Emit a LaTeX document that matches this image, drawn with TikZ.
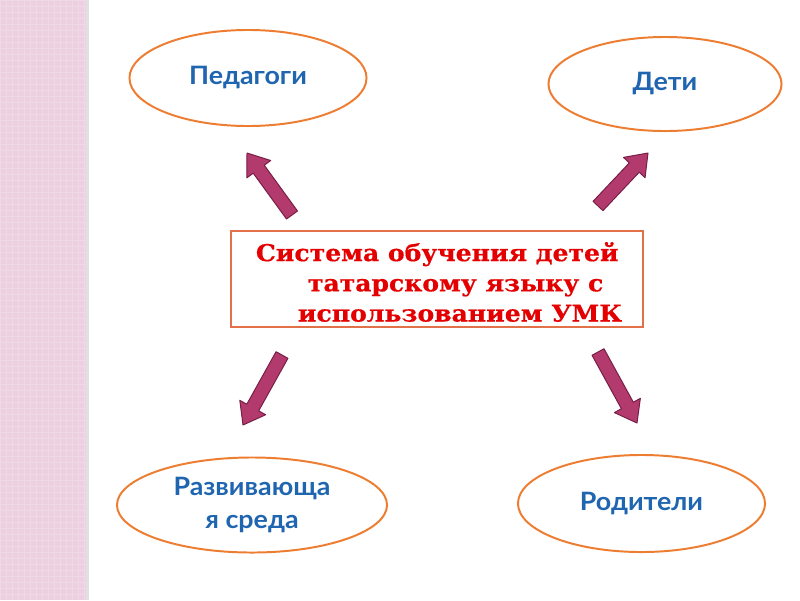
\documentclass[tikz,border=0pt]{standalone}
\usepackage{fontspec}
\setmainfont{Lato}[FakeStretch=1.06]
\newfontfamily\titlefont{DejaVu Serif}[FakeStretch=1.08, BoldFeatures={FakeBold=0.6}]
\usetikzlibrary{shapes.geometric,calc}
\definecolor{ringorange}{RGB}{237,125,49}
\definecolor{boxorange}{RGB}{226,112,72}
\definecolor{goalblue}{RGB}{31,101,176}
\definecolor{titlered}{RGB}{228,0,0}
\definecolor{arrowpink}{RGB}{178,58,108}
\definecolor{arrowedge}{RGB}{120,30,70}
\definecolor{stripepink}{RGB}{236,208,224}

\begin{document}
\begin{tikzpicture}[x=0.025cm, y=-0.025cm,
  goal/.style={ellipse, draw=ringorange, line width=1.4pt, fill=white, inner sep=0pt, align=center,
    text=goalblue, font=\fontsize{18}{23.5}\selectfont\bfseries},
  system/.style={rectangle, draw=boxorange, line width=1.4pt, fill=white, align=left,
    text=titlered, font=\titlefont\fontsize{16.5}{21.5}\selectfont\bfseries,
    minimum width=10.3cm, minimum height=2.4cm},
  fatarrow/.style={fill=arrowpink, draw=arrowedge, line width=0.7pt, line join=round}
]
\useasboundingbox (0,0) rectangle (800,600);
% left stripe
\fill[stripepink] (0,0) rectangle (86,600);
\draw[white, opacity=0.2, step=0.15cm] (0,0) grid (86,600);
\fill[black!12] (86,0) rectangle (89,600);

\node[goal, minimum width=5.925cm, minimum height=2.4cm] (ped) at (248,78) {Педагоги};
\node[goal, minimum width=5.825cm, minimum height=2.35cm] (deti) at (665,84) {Дети};
\node[goal, minimum width=6.75cm, minimum height=2.375cm] (sreda) at (252,505) {Развивающа\\я среда};
\node[goal, minimum width=6.175cm, minimum height=2.425cm] (rod) at (641.5,503.5) {Родители};

\node[system] (sys) at (437,279) {};
\node[text=titlered, font=\titlefont\fontsize{16.5}{21.5}\selectfont\bfseries, align=left]
  (title) at (439,282) {Система обучения детей\\
  \hspace*{1.3cm}татарскому языку с\\
  \hspace*{1.05cm}использованием УМК};

% ends of the block arrows
\coordinate (pedS) at (292,215);   \coordinate (pedT) at (247,153);
\coordinate (detiS) at (598,206);  \coordinate (detiT) at (648,153);
\coordinate (sredaS) at (282,355); \coordinate (sredaT) at (243,425);
\coordinate (rodS) at (598,352);   \coordinate (rodT) at (637,423);

\foreach \s/\t in {pedS/pedT, detiS/detiT, sredaS/sredaT, rodS/rodT} {
  \coordinate (hb) at ($(\t)!0.5cm!(\s)$);
  \draw[fatarrow] ($(\s)!0.17cm!90:(\t)$) -- ($(hb)!0.17cm!90:(\t)$) -- ($(hb)!0.37cm!90:(\t)$)
    -- (\t) -- ($(hb)!0.37cm!-90:(\t)$) -- ($(hb)!0.17cm!-90:(\t)$) -- ($(\s)!0.17cm!-90:(\t)$) -- cycle;
}
\end{tikzpicture}
\end{document}
